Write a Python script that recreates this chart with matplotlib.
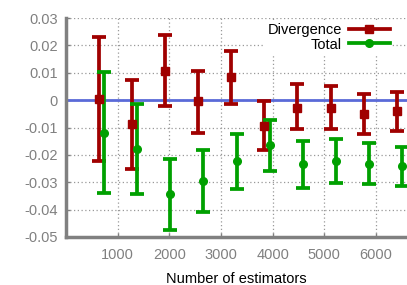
import matplotlib
matplotlib.use("Agg")
import matplotlib.pyplot as plt
import numpy as np

# Data
div_x = [640, 1280, 1920, 2560, 3200, 3840, 4480, 5120, 5760, 6400]
div_y = [0.0004, -0.0088, 0.0107, -0.0002, 0.0083, -0.0094, -0.0027, -0.0027, -0.0049, -0.0041]
div_hi = [0.0232, 0.0073, 0.0238, 0.0107, 0.0180, -0.0003, 0.0059, 0.0052, 0.0024, 0.0029]
div_lo = [-0.0222, -0.0250, -0.0022, -0.0120, -0.0015, -0.0183, -0.0107, -0.0104, -0.0123, -0.0111]

tot_x = [740, 1380, 2020, 2660, 3300, 3940, 4580, 5220, 5860, 6500]
tot_y = [-0.0120, -0.0177, -0.0342, -0.0295, -0.0223, -0.0165, -0.0234, -0.0222, -0.0232, -0.0242]
tot_hi = [0.0101, -0.0015, -0.0214, -0.0183, -0.0125, -0.0073, -0.0149, -0.0142, -0.0156, -0.0171]
tot_lo = [-0.0338, -0.0342, -0.0473, -0.0407, -0.0326, -0.0259, -0.0320, -0.0302, -0.0305, -0.0312]

xticks = [1000, 2000, 3000, 4000, 5000, 6000]
yticks = [-0.05, -0.04, -0.03, -0.02, -0.01, 0, 0.01, 0.02, 0.03]
ytick_labels = ["-0.05", "-0.04", "-0.03", "-0.02", "-0.01", "0", "0.01", "0.02", "0.03"]

plt.rcParams['font.family'] = ['Liberation Sans', 'DejaVu Sans']

fig = plt.figure(figsize=(4.07, 2.85), dpi=100)
ax = fig.add_axes([66/407, 1 - 237/285, 1 - 66/407, (237 - 18)/285])

ax.axhline(0, color='#5a6ad8', lw=2, zorder=2)

red = '#a00000'
green = '#00a000'

def draw(x, y, hi, lo, color, marker, ms, label):
    x = np.array(x); y = np.array(y)
    yerr = np.vstack([y - np.array(lo), np.array(hi) - y])
    ax.errorbar(x, y, yerr=yerr, fmt='none', ecolor=color, elinewidth=2.7,
                capsize=5, capthick=2.7, zorder=3)
    ax.plot(x, y, linestyle='none', marker=marker, color=color, ms=ms, zorder=4)
    ax.plot([], [], color=color, lw=2.7, marker=marker, ms=ms, label=label)

draw(div_x, div_y, div_hi, div_lo, red, 's', 6, 'Divergence')
draw(tot_x, tot_y, tot_hi, tot_lo, green, 'o', 5.5, 'Total')

ax.set_xlim(0, 6600)
ax.set_ylim(-0.05, 0.03)
ax.set_xticks(xticks)
ax.set_yticks(yticks)
ax.set_yticklabels(ytick_labels)

ax.grid(True, color='#999999', linestyle=(0, (1, 2)), lw=0.9, zorder=0)
for s in ['top', 'right']:
    ax.spines[s].set_visible(False)
for s in ['left', 'bottom']:
    ax.spines[s].set_color('#808080')
    ax.spines[s].set_linewidth(2.5)

ax.tick_params(axis='both', direction='in', length=3, width=1, color='#808080',
               labelcolor='#808080', labelsize=10.5)
ax.tick_params(axis='x', pad=8)
ax.tick_params(axis='y', pad=6)

ax.set_xlabel('Number of estimators', fontsize=10.5, labelpad=7)

leg = ax.legend(loc='upper right', bbox_to_anchor=((392 - 66) / 341, 0.988), markerfirst=False,
                frameon=True, fontsize=10.5, handlelength=2.8, borderpad=0.15,
                labelspacing=0.05, handletextpad=0.5, borderaxespad=0.0)
leg.get_frame().set_edgecolor('none')
leg.get_frame().set_facecolor('white')
leg.get_frame().set_alpha(1)
leg.set_zorder(5)

fig.savefig('out.png', dpi=100)
